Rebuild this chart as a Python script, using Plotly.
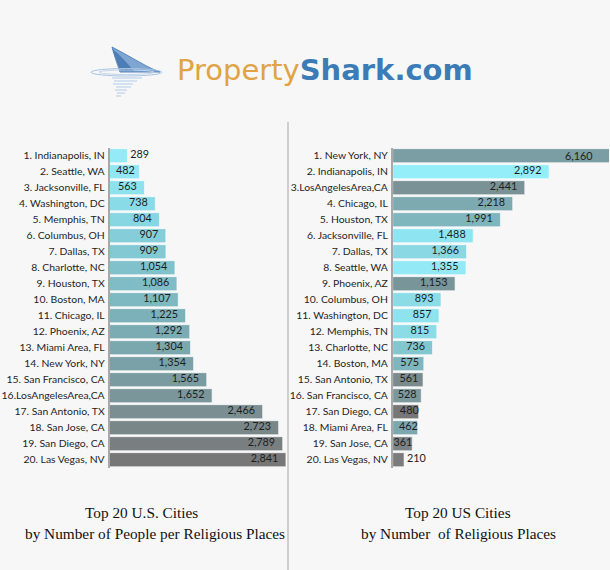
import plotly.graph_objects as go

W, H = 610, 570

# ---------------- data ----------------
left_cities = ["Indianapolis, IN", "Seattle, WA", "Jacksonville, FL", "Washington, DC",
               "Memphis, TN", "Columbus, OH", "Dallas, TX", "Charlotte, NC", "Houston, TX",
               "Boston, MA", "Chicago, IL", "Phoenix, AZ", "Miami Area, FL", "New York, NY",
               "San Francisco, CA", "LosAngelesArea,CA", "San Antonio, TX", "San Jose, CA",
               "San Diego, CA", "Las Vegas, NV"]
left_values = [289, 482, 563, 738, 804, 907, 909, 1054, 1086, 1107, 1225, 1292, 1304,
               1354, 1565, 1652, 2466, 2723, 2789, 2841]

right_cities = ["New York, NY", "Indianapolis, IN", "LosAngelesArea,CA", "Chicago, IL",
                "Houston, TX", "Jacksonville, FL", "Dallas, TX", "Seattle, WA", "Phoenix, AZ",
                "Columbus, OH", "Washington, DC", "Memphis, TN", "Charlotte, NC", "Boston, MA",
                "San Antonio, TX", "San Francisco, CA", "San Diego, CA", "Miami Area, FL",
                "San Jose, CA", "Las Vegas, NV"]
right_values = [6160, 2892, 2441, 2218, 1991, 1488, 1366, 1355, 1153, 893, 857, 815, 736,
                575, 561, 528, 480, 462, 361, 210]

left_title = ["Top 20 U.S. Cities", "by Number of People per Religious Places"]
right_title = ["Top 20 US Cities", "by Number\u00a0 of Religious Places"]

# ---------------- styles ----------------
left_colors = ["#94EBF7", "#91E7F3", "#8EE2EE", "#8ADBE8", "#88D6E2", "#85CDD9", "#83C9D4",
               "#80C1CB", "#7FBCC5", "#7EB8C0", "#7CB1B9", "#7BACB3", "#7BA7AE", "#7AA1A7",
               "#7A9BA0", "#7A969A", "#7B8F92", "#7A8789", "#797F81", "#777777"]
right_colors = ["#7A9EA3", "#93EEFA", "#7A9195", "#7DAAB1", "#7FB5BD", "#8EE5F1", "#8AD8E4",
                "#93EAF6", "#78959A", "#8BDCE7", "#8EE3EE", "#8CDCE7", "#82C6CF", "#7FB5BD",
                "#7A8A8D", "#7C989C", "#777777", "#7BA7AE", "#7B8385", "#7B7B7B"]


def make_labels(cities):
    out = []
    for i, c in enumerate(cities, start=1):
        sep = "" if "LosAngeles" in c else " "
        out.append(f"{i}.{sep}{c}")
    return out


left_labels = make_labels(left_cities)
right_labels = make_labels(right_cities)

BG = "#F7F7F7"
LABEL_FONT = dict(family="Lato", size=10.4, color="#1E1E1E")
VALUE_FONT = dict(family="Lato", size=10.8, color="#1E1E1E")

LEFT_SCALE, RIGHT_SCALE = 0.0621, 0.0541   # px per unit
LEFT_MAX = 180.5 / LEFT_SCALE
RIGHT_MAX = 216.3 / RIGHT_SCALE


def px(x):
    return x / W


def py(y):
    return 1 - y / H


def label_style(values, scale):
    """Placement of value labels: inside at the bar end, tight inside, or outside."""
    pos, size = [], []
    for v in values:
        w = v * scale
        if w < 19:
            pos.append("middle right"); size.append(3)
        elif w < 27:
            pos.append("middle left"); size.append(0)
        elif w < 32:
            pos.append("middle left"); size.append(6)
        else:
            pos.append("middle left"); size.append(10.5)
    return pos, size


fig = go.Figure()


def add_chart(values, labels, colors, scale, xmax, xa, ya):
    fig.add_trace(go.Bar(
        x=values, y=labels, orientation="h",
        marker=dict(color=colors, line=dict(color="rgba(255,255,255,0.6)", width=1)),
        textposition="none", xaxis=xa, yaxis=ya, hoverinfo="skip",
    ))
    pos, size = label_style(values, scale)
    fig.add_trace(go.Scatter(
        x=values, y=labels, mode="markers+text",
        text=[f"{v:,}" if v <= xmax else "" for v in values],
        textposition=pos, textfont=VALUE_FONT,
        marker=dict(size=size, opacity=0), cliponaxis=False,
        xaxis=xa, yaxis=ya, hoverinfo="skip",
    ))


add_chart(left_values, left_labels, left_colors, LEFT_SCALE, LEFT_MAX, "x", "y")
add_chart(right_values, right_labels, right_colors, RIGHT_SCALE, RIGHT_MAX, "x2", "y2")

y_top, y_bot = 147.7, 467.7
yaxis_common = dict(
    type="category", range=[len(left_labels) - 0.5, -0.5], showgrid=False, zeroline=False,
    showline=True, linecolor="#A8A8A8", linewidth=1.5, ticks="",
    tickfont=LABEL_FONT, automargin=False, ticklabelstandoff=1,
    domain=[py(y_bot), py(y_top)], fixedrange=True,
)

fig.update_layout(
    width=W, height=H, margin=dict(l=0, r=0, t=0, b=0),
    paper_bgcolor=BG, plot_bgcolor="rgba(0,0,0,0)",
    showlegend=False, bargap=0.12,
    xaxis=dict(domain=[px(109.5), px(290)], range=[0, LEFT_MAX], visible=False,
               fixedrange=True),
    xaxis2=dict(domain=[px(392.7), px(609)], range=[0, RIGHT_MAX], visible=False,
                fixedrange=True),
    yaxis=dict(anchor="x", categoryorder="array", categoryarray=left_labels, **yaxis_common),
    yaxis2=dict(anchor="x2", categoryorder="array", categoryarray=right_labels, **yaxis_common),
)

# divider
shapes = [dict(type="line", xref="paper", yref="paper", x0=px(288), x1=px(288),
               y0=py(122), y1=py(570), layer="below", line=dict(color="#CFCFCF", width=2))]


def path(points, close=True):
    s = ""
    for cmd, pts in points:
        s += cmd + " ".join(f"{px(a):.5f},{py(b):.5f}" for a, b in pts) + " "
    return s + ("Z" if close else "")


# shark fin
fin = path([("M", [(112, 47)]),
            ("C", [(115, 58), (118, 66), (120, 72)]),
            ("L", [(160, 72)]),
            ("C", [(150, 69), (133, 58), (112, 47)])])
shapes.append(dict(type="path", xref="paper", yref="paper", path=fin,
                   fillcolor="#7FA6D3", line=dict(color="#5A88BE", width=1)))
shapes.append(dict(type="path", xref="paper", yref="paper",
                   path=path([("M", [(112.5, 49)]), ("C", [(116, 59), (118, 66), (121, 71)]),
                              ("L", [(134, 71)]), ("C", [(127, 63), (120, 55), (112.5, 49)])]),
                   fillcolor="#4D7DB5", line=dict(width=0)))
# water rings
for (x0, x1, y0, y1, c) in [(91, 162, 68.5, 76, "#A9C4E2"), (99, 154, 70, 74.5, "#C3D6EC")]:
    shapes.append(dict(type="circle", xref="paper", yref="paper",
                       x0=px(x0), x1=px(x1), y0=py(y1), y1=py(y0),
                       line=dict(color=c, width=1)))
# reflection
for (xa, xb, yy) in [(112, 142, 78), (114, 137, 81), (113, 133, 84), (116, 131, 87),
                     (115, 127, 90), (117, 125, 93), (116, 121, 96)]:
    shapes.append(dict(type="line", xref="paper", yref="paper",
                       x0=px(xa), x1=px(xb), y0=py(yy), y1=py(yy),
                       line=dict(color="#C7DAEE", width=1.5)))

fig.update_layout(shapes=shapes)

ann = [
    dict(x=px(324.5), y=py(70), xref="paper", yref="paper", showarrow=False,
         xanchor="center", yanchor="middle",
         text="<span style='color:#E0A345'>Property</span>"
              "<span style='color:#3B7CB6'><b>Shark.com</b></span>",
         font=dict(family="DejaVu Sans", size=29)),
]
for t, (x, y) in zip(left_title + right_title,
                     [(141.5, 512), (155, 533), (457.5, 512), (458.3, 533)]):
    ann.append(dict(x=px(x), y=py(y), text=t, xref="paper", yref="paper", showarrow=False,
                    xanchor="center", yanchor="middle",
                    font=dict(family="Liberation Serif", size=15.3, color="#111111")))

# labels of bars that run past the right edge of the panel
for lab, v in zip(right_labels, right_values):
    if v > RIGHT_MAX:
        ann.append(dict(x=RIGHT_MAX, y=lab, xref="x2", yref="y2", showarrow=False,
                        xanchor="right", yanchor="middle", xshift=-14,
                        text=f"{v:,}", font=VALUE_FONT))

fig.update_layout(annotations=ann)

fig.write_html("out.html")
